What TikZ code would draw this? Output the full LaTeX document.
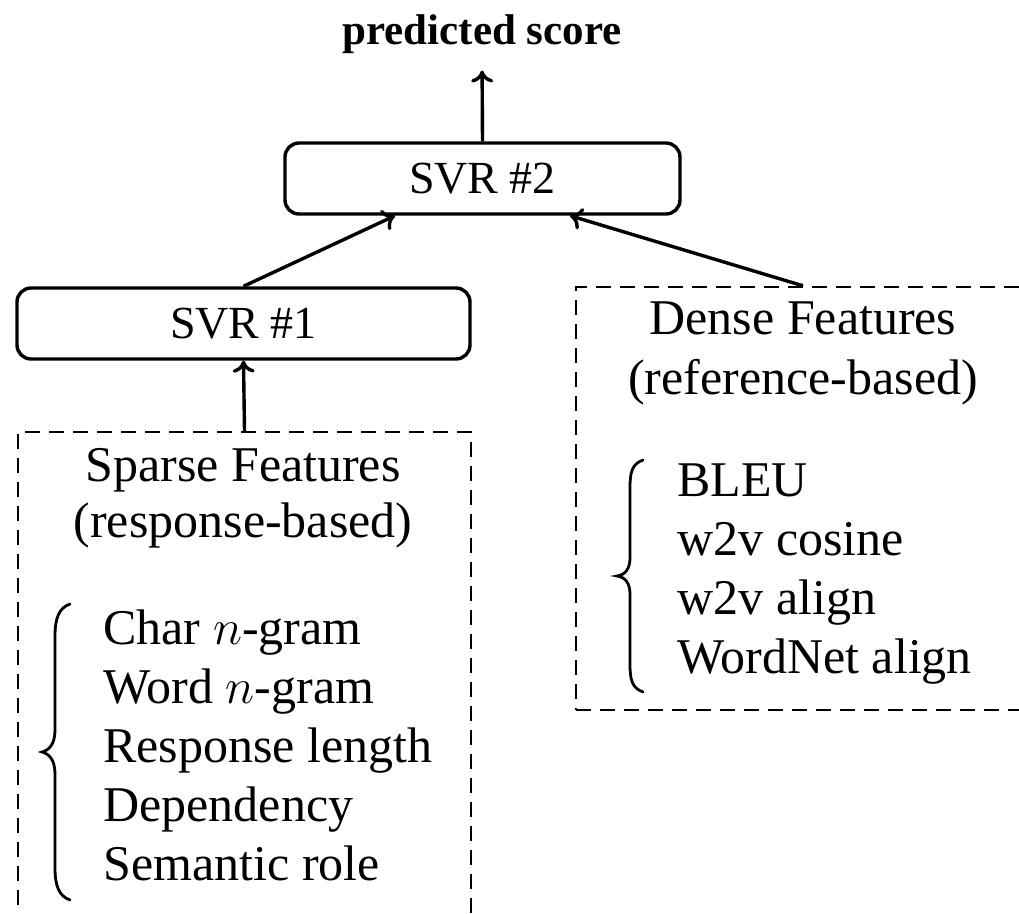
\documentclass[tikz,border=0pt]{standalone}
\usepackage{fontspec}
\setmainfont{Liberation Serif}
\usetikzlibrary{arrows.meta}
\begin{document}
\begin{tikzpicture}[x=0.5pt,y=-0.5pt,
  every node/.style={font=\fontsize{25}{29.5}\selectfont},
  svrbox/.style={draw, line width=1.7pt, rounded corners=7pt, minimum height=35.5pt, inner sep=0pt, font=\fontsize{23}{29.5}\selectfont},
  featbox/.style={draw, line width=1.2pt, dash pattern=on 7.5pt off 4.5pt, inner sep=0pt},
  conn/.style={-{Computer Modern Rightarrow[length=6pt,width=11pt]}, line width=1.7pt},
  bracepath/.style={line width=1.4pt, line cap=round},
  lbl/.style={anchor=base, inner sep=0pt},
  listnode/.style={anchor=base west, inner sep=0pt}]
\useasboundingbox (0,0) rectangle (1019,914);
\clip (0,0) rectangle (1019,914);
\node[svrbox, minimum width=197.5pt] (svr2) at (482.5,178.5) {SVR \#2};
\node[svrbox, minimum width=226.5pt] (svr1) at (243.5,323.5) {SVR \#1};
\node[featbox, minimum width=226.5pt, minimum height=254pt] (sparse) at (244.5,686) {};
\node[featbox, minimum width=227pt, minimum height=211.5pt] (dense) at (803,498.5) {};
\node[lbl, font=\fontsize{21.5}{29.5}\selectfont\bfseries] (score) at (482,45) {predicted score};
\node[lbl] (sparsetitle) at (243,482) {Sparse Features};
\node[lbl] (sparsesub) at (243,538) {(response-based)};
\node[lbl] (densetitle) at (803,335) {Dense Features};
\node[lbl] (densesub) at (803,395) {(reference-based)};
\node[listnode] (sparselist) at (103,645) {\begin{tabular}[t]{@{}l@{}}Char $n$-gram\\ Word $n$-gram\\ Response length\\ Dependency\\ Semantic role\end{tabular}};
\node[listnode] (denselist) at (677,497) {\begin{tabular}[t]{@{}l@{}}BLEU\\ w2v cosine\\ w2v align\\ WordNet align\end{tabular}};
% braces
\draw[bracepath] (70,604) .. controls (59,608) and (55,618) .. (55,636) -- (55,730)
  .. controls (55,743) and (50,750) .. (42,752) .. controls (50,754) and (55,761) .. (55,774)
  -- (55,868) .. controls (55,886) and (59,896) .. (70,900);
\draw[bracepath] (643,460) .. controls (632,464) and (630,472) .. (630,488) -- (630,558)
  .. controls (630,569) and (625,575) .. (617,576) .. controls (625,577) and (630,583) .. (630,594)
  -- (630,664) .. controls (630,680) and (632,688) .. (643,692);
\draw[conn, shorten >=8pt] (svr2.north) -- (score.south);
\draw[conn] (svr1.north) -- ([xshift=-43.75pt]svr2.south);
\draw[conn] (dense.north) -- ([xshift=43.75pt]svr2.south);
\draw[conn] (sparse.north) -- (svr1.south);
\end{tikzpicture}
\end{document}
